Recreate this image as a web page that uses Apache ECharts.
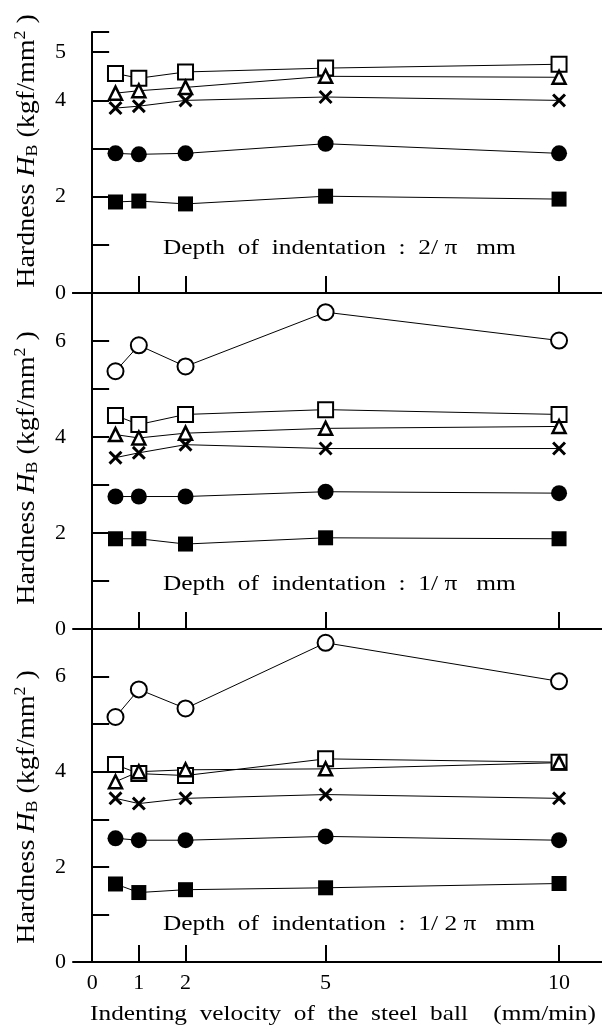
<!DOCTYPE html>
<html>
<head>
<meta charset="utf-8">
<script src="https://cdn.jsdelivr.net/npm/echarts@6/dist/echarts.min.js"></script>
<style>html,body{margin:0;padding:0;background:#fff}#main{width:602px;height:1035px}</style>
</head>
<body>
<div id="main"></div>
<script>
var velocity = [0.5, 1, 2, 5, 10];
var xTicks = [0, 1, 2, 5, 10];

// depth 2/pi mm
var p1OpenSquare = [4.56, 4.46, 4.59, 4.67, 4.75];
var p1Triangle = [4.15, 4.2, 4.27, 4.5, 4.48];
var p1Cross = [3.84, 3.88, 4.0, 4.07, 4.0];
var p1Circle = [2.9, 2.88, 2.9, 3.1, 2.9];
var p1Square = [1.89, 1.91, 1.85, 2.01, 1.95];

// depth 1/pi mm
var p2OpenCircle = [5.37, 5.91, 5.47, 6.6, 6.01];
var p2OpenSquare = [4.45, 4.26, 4.47, 4.57, 4.47];
var p2Triangle = [4.05, 3.98, 4.08, 4.18, 4.22];
var p2Cross = [3.57, 3.67, 3.84, 3.76, 3.76];
var p2Circle = [2.76, 2.76, 2.76, 2.86, 2.83];
var p2Square = [1.88, 1.88, 1.77, 1.9, 1.88];

// depth 1/2pi mm
var p3OpenCircle = [5.15, 5.73, 5.33, 6.71, 5.9];
var p3OpenSquare = [4.15, 3.96, 3.92, 4.27, 4.2];
var p3Triangle = [3.79, 4.0, 4.04, 4.06, 4.19];
var p3Cross = [3.44, 3.33, 3.44, 3.52, 3.44];
var p3Circle = [2.6, 2.56, 2.56, 2.64, 2.56];
var p3Square = [1.64, 1.46, 1.52, 1.56, 1.65];

var p1YLabels = [0, 2, 4, 5];
var p23YLabels = [0, 2, 4, 6];

var font = 'Liberation Serif';
var crossPath = 'path://M0,3L3,0L10,7L17,0L20,3L13,10L20,17L17,20L10,13L3,20L0,17L7,10Z';

var markers = {
    openCircle: {symbol: 'circle', size: 16, fill: '#fff', border: 2},
    openSquare: {symbol: 'rect', size: 15, fill: '#fff', border: 2},
    triangle: {symbol: 'triangle', size: [13, 13], fill: '#fff', border: 2.5},
    cross: {symbol: crossPath, size: 14, fill: '#000', border: 0},
    circle: {symbol: 'circle', size: 16, fill: '#000', border: 0},
    square: {symbol: 'rect', size: 15, fill: '#000', border: 0}
};

function mk(kind, vals, idx) {
    var m = markers[kind];
    return {
        type: 'line',
        xAxisIndex: idx,
        yAxisIndex: idx,
        data: vals.map(function (v, i) { return [velocity[i], v]; }),
        symbol: m.symbol,
        symbolSize: m.size,
        showAllSymbol: true,
        lineStyle: {color: '#000', width: 1},
        itemStyle: {color: m.fill, borderColor: '#000', borderWidth: m.border},
        z: 3,
        animation: false
    };
}

function xAx(idx, showLabels) {
    return {
        type: 'value', gridIndex: idx, min: -0.41, max: 10.92,
        axisLine: {onZero: false, lineStyle: {color: '#000', width: 2}},
        axisTick: {inside: true, length: 17, customValues: xTicks, lineStyle: {color: '#000', width: 2}},
        axisLabel: {show: showLabels, customValues: xTicks, margin: 10, color: '#000', fontFamily: font, fontSize: 22},
        splitLine: {show: false}
    };
}

function yAx(idx, max, labels) {
    return {
        type: 'value', gridIndex: idx, min: 0, max: max, interval: 1,
        axisLine: {show: true, lineStyle: {color: '#000', width: 2}},
        axisTick: {inside: true, length: 17, lineStyle: {color: '#000', width: 2}},
        axisLabel: {
            margin: 7, color: '#000', fontFamily: font, fontSize: 22,
            formatter: function (v) { return labels.indexOf(v) >= 0 ? String(v) : ''; }
        },
        splitLine: {show: false}
    };
}

var nameRich = {
    i: {fontStyle: 'italic', fontFamily: font, fontSize: 25, color: '#000'},
    s: {fontFamily: font, fontSize: 16, color: '#000', verticalAlign: 'bottom', padding: [9, 0, 0, 0]},
    p: {fontFamily: font, fontSize: 16, color: '#000', verticalAlign: 'top', padding: [0, 0, 12, 0]}
};

function yName(cy) {
    return {
        type: 'text', x: 27, y: cy, rotation: Math.PI / 2, scaleX: 1.12,
        style: {
            text: 'Hardness {i|H}{s|B} (kgf/mm{p|2} )',
            rich: nameRich, fontFamily: font, fontSize: 25, fill: '#000',
            align: 'center', verticalAlign: 'middle'
        }
    };
}

function note(y, txt) {
    return {
        type: 'text', x: 163, y: y, scaleX: 1.27,
        style: {text: txt, fontFamily: font, fontSize: 20, fill: '#000', verticalAlign: 'middle'}
    };
}

var chart = echarts.init(document.getElementById('main'));

var option = {
    backgroundColor: '#fff',
    animation: false,
    grid: [
        {left: 73, right: 0, top: 32, height: 261},
        {left: 73, right: 0, top: 293, height: 336},
        {left: 73, right: 0, top: 629, height: 333}
    ],
    xAxis: [
        xAx(0, false),
        xAx(1, false),
        xAx(2, true),
        {
            type: 'value', gridIndex: 0, position: 'top', min: -0.41, max: 10.92,
            axisLine: {lineStyle: {color: '#000', width: 2}},
            axisTick: {show: false}, axisLabel: {show: false}, splitLine: {show: false}
        }
    ],
    yAxis: [
        yAx(0, 5.42, p1YLabels),
        yAx(1, 7, p23YLabels),
        yAx(2, 7, p23YLabels)
    ],
    series: [
        mk('openSquare', p1OpenSquare, 0),
        mk('triangle', p1Triangle, 0),
        mk('cross', p1Cross, 0),
        mk('circle', p1Circle, 0),
        mk('square', p1Square, 0),
        mk('openCircle', p2OpenCircle, 1),
        mk('openSquare', p2OpenSquare, 1),
        mk('triangle', p2Triangle, 1),
        mk('cross', p2Cross, 1),
        mk('circle', p2Circle, 1),
        mk('square', p2Square, 1),
        mk('openCircle', p3OpenCircle, 2),
        mk('openSquare', p3OpenSquare, 2),
        mk('triangle', p3Triangle, 2),
        mk('cross', p3Cross, 2),
        mk('circle', p3Circle, 2),
        mk('square', p3Square, 2)
    ],
    graphic: [
        yName(151),
        yName(468),
        yName(807),
        note(249, 'Depth  of  indentation  :  2/ \u03c0   mm'),
        note(585, 'Depth  of  indentation  :  1/ \u03c0   mm'),
        note(925, 'Depth  of  indentation  :  1/ 2 \u03c0   mm'),
        {
            type: 'text', x: 343, y: 1014, scaleX: 1.15,
            style: {
                text: 'Indenting  velocity  of  the  steel  ball    (mm/min)',
                fontFamily: font, fontSize: 22, fill: '#000', align: 'center', verticalAlign: 'middle'
            }
        }
    ]
};

chart.setOption(option);
</script>
</body>
</html>
